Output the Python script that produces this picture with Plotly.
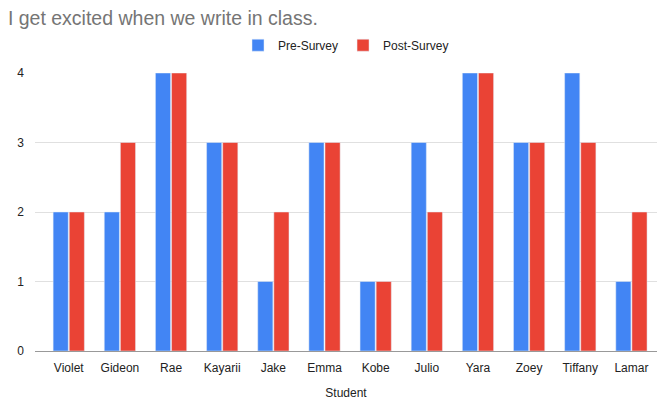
import plotly.graph_objects as go

students = ["Violet", "Gideon", "Rae", "Kayarii", "Jake", "Emma", "Kobe", "Julio", "Yara", "Zoey", "Tiffany", "Lamar"]
pre_survey = [2, 2, 4, 3, 1, 3, 1, 3, 4, 3, 4, 1]
post_survey = [2, 3, 4, 3, 2, 3, 1, 2, 4, 3, 3, 2]

fig = go.Figure()
fig.add_trace(go.Bar(x=students, y=pre_survey, name="Pre-Survey", marker_color="#4285F4"))
fig.add_trace(go.Bar(x=students, y=post_survey, name="Post-Survey", marker_color="#EA4335"))

fig.update_layout(
    width=660, height=400,
    margin=dict(l=35, r=3, t=73, b=49),
    paper_bgcolor="white", plot_bgcolor="white",
    font=dict(family="Liberation Sans, Arial, sans-serif", size=12, color="#222222"),
    title=dict(text="I get excited when we write in class.", x=0.012, xanchor="left",
               y=0.955, yanchor="middle", font=dict(size=19.5, color="#757575")),
    barmode="group", bargap=0.37, bargroupgap=0.06,
    legend=dict(orientation="h", x=0.5, xanchor="center", y=1.1, yanchor="middle",
                font=dict(size=12, color="#222222"), itemwidth=30),
    xaxis=dict(title=dict(text="Student", font=dict(size=12, color="#222222"), standoff=22),
               showgrid=False, ticks="", showline=False, range=[-0.66, 11.5],
               ticklabelstandoff=8, automargin=False),
    yaxis=dict(range=[0, 4.0], dtick=1, showgrid=True, gridcolor="#e0e0e0",
               zeroline=True, zerolinecolor="#999999", zerolinewidth=1, ticks="",
               ticklabelstandoff=10, fixedrange=True, automargin=False),
)

fig.write_html("out.html")
